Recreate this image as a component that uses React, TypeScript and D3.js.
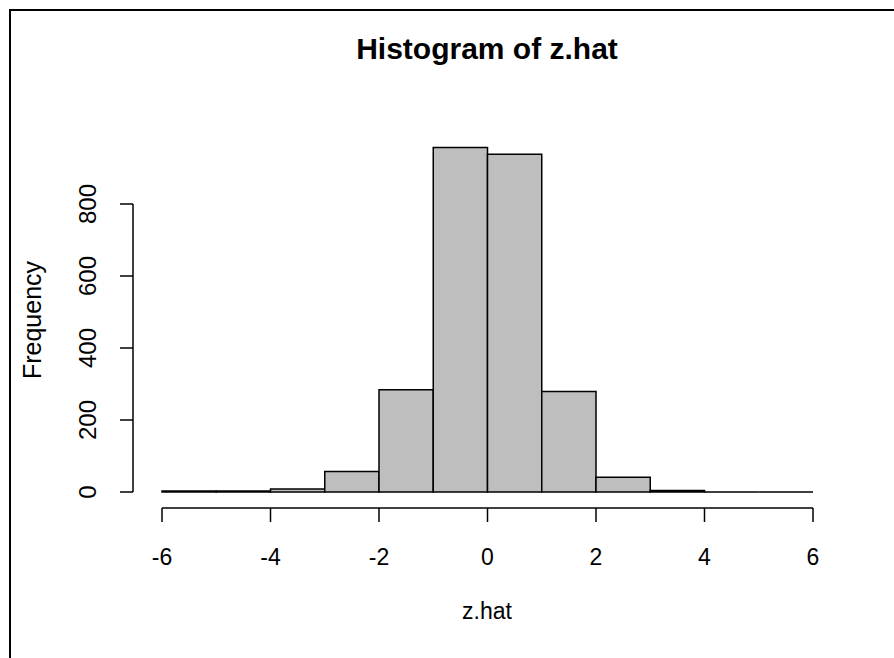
import React from "react";
import * as d3 from "d3";

const binEdges = [-6, -5, -4, -3, -2, -1, 0, 1, 2, 3, 4, 5, 6];
const counts = [3, 3, 8, 57, 284, 957, 938, 279, 41, 4, 0, 0];
const xTicks = [-6, -4, -2, 0, 2, 4, 6];
const yTicks = [0, 200, 400, 600, 800];

const W = 894;
const H = 658;

export default function App() {
  const x = d3.scaleLinear().domain([-6, 6]).range([162, 813]);
  const y = d3.scaleLinear().domain([0, 800]).range([492, 204]);
  const font = "'Liberation Sans', Arial, sans-serif";
  return (
    <svg width={W} height={H} style={{ position: "absolute", left: 0, top: 0 }}>
      <rect x={0} y={0} width={W} height={H} fill="#fff" />
      <path d={`M10,${H + 5} V10 H${W + 5}`} fill="none" stroke="#000" strokeWidth={2} />
      {counts.map((c, i) => {
        const x0 = x(binEdges[i]);
        const x1 = x(binEdges[i + 1]);
        const y0 = y(0);
        const y1 = y(c);
        return (
          <path
            key={i}
            d={`M${x0},${y0} V${y1} H${x1} V${y0} Z`}
            fill="#bebebe"
            stroke="#000"
            strokeWidth={1.5}
          />
        );
      })}
      {/* x axis */}
      <line x1={x(-6)} x2={x(6)} y1={508} y2={508} stroke="#000" strokeWidth={1.5} />
      {xTicks.map((t) => (
        <g key={t}>
          <line x1={x(t)} x2={x(t)} y1={508} y2={522} stroke="#000" strokeWidth={1.5} />
          <text x={x(t)} y={565} textAnchor="middle" fontFamily={font} fontSize={23} fill="#000">
            {t}
          </text>
        </g>
      ))}
      {/* y axis */}
      <line x1={133} x2={133} y1={y(0)} y2={y(800)} stroke="#000" strokeWidth={1.5} />
      {yTicks.map((t) => (
        <g key={t}>
          <line x1={120} x2={133} y1={y(t)} y2={y(t)} stroke="#000" strokeWidth={1.5} />
          <text
            transform={`translate(96,${y(t)}) rotate(-90)`}
            textAnchor="middle"
            fontFamily={font}
            fontSize={24}
            fill="#000"
          >
            {t}
          </text>
        </g>
      ))}
      <text x={487} y={59} textAnchor="middle" fontFamily={font} fontSize={30} fontWeight="bold" fill="#000">
        Histogram of z.hat
      </text>
      <text x={487} y={619} textAnchor="middle" fontFamily={font} fontSize={23} fill="#000">
        z.hat
      </text>
      <text
        transform={`translate(41,320) rotate(-90)`}
        textAnchor="middle"
        fontFamily={font}
        fontSize={25}
        fill="#000"
      >
        Frequency
      </text>
    </svg>
  );
}
